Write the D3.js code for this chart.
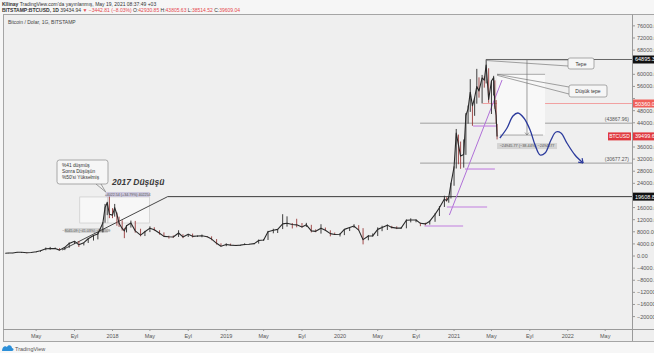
<!DOCTYPE html>
<html>
<head>
<meta charset="utf-8">
<script src="https://cdnjs.cloudflare.com/ajax/libs/d3/7.8.5/d3.min.js"></script>
<style>
  body { margin: 0; background: #f6f6f6; }
  svg { display: block; }
  text { font-family: "Liberation Sans", Arial, sans-serif; }
</style>
</head>
<body>
<svg id="chart" width="654" height="353"></svg>
<script>
// BTCUSD price, roughly half-monthly (weekly near the tops): close / high / low
var dates = [
  "2017-01-22","2017-02-01","2017-02-15","2017-03-01","2017-03-15","2017-04-01","2017-04-15","2017-05-01","2017-05-15",
  "2017-06-01","2017-06-15","2017-07-01","2017-07-15","2017-08-01","2017-08-15","2017-09-01","2017-09-15","2017-10-01",
  "2017-10-15","2017-11-01","2017-11-15","2017-12-01","2017-12-08","2017-12-15","2017-12-22",
  "2018-01-01","2018-01-08","2018-01-15","2018-01-22","2018-02-01","2018-02-08","2018-02-15","2018-03-01","2018-03-15",
  "2018-04-01","2018-04-15","2018-05-01","2018-05-15","2018-06-01","2018-06-15","2018-07-01","2018-07-15","2018-08-01",
  "2018-08-15","2018-09-01","2018-09-15","2018-10-01","2018-10-15","2018-11-01","2018-11-15","2018-12-01","2018-12-15",
  "2019-01-01","2019-01-15","2019-02-01","2019-02-15","2019-03-01","2019-03-15","2019-04-01","2019-04-15","2019-05-01",
  "2019-05-15","2019-06-01","2019-06-15","2019-07-01","2019-07-15","2019-08-01","2019-08-15","2019-09-01","2019-09-15",
  "2019-10-01","2019-10-15","2019-11-01","2019-11-15","2019-12-01","2019-12-15",
  "2020-01-01","2020-01-15","2020-02-01","2020-02-15","2020-03-01","2020-03-15","2020-04-01","2020-04-15","2020-05-01",
  "2020-05-15","2020-06-01","2020-06-15","2020-07-01","2020-07-15","2020-08-01","2020-08-15","2020-09-01","2020-09-15",
  "2020-10-01","2020-10-15","2020-11-01","2020-11-15","2020-12-01","2020-12-08","2020-12-15","2020-12-22",
  "2021-01-01","2021-01-08","2021-01-15","2021-01-22","2021-02-01","2021-02-08","2021-02-15","2021-02-22","2021-03-01",
  "2021-03-08","2021-03-15","2021-03-22","2021-04-01","2021-04-08","2021-04-14","2021-04-22","2021-05-01","2021-05-08",
  "2021-05-12","2021-05-16","2021-05-19"
];
var closes = [
  920,990,1010,1220,1250,1080,1180,1420,1750,2400,2450,2480,1950,2870,4170,4900,3700,4400,5700,6750,7300,10900,16000,17600,13800,
  13500,16000,13800,10800,9100,8300,10000,10900,8300,6900,8000,9200,8700,7500,6500,6350,6300,7600,6300,7200,6500,6600,6700,6350,5600,4200,3250,
  3800,3600,3450,3600,3800,3900,4100,5100,5300,8000,8500,8800,10600,10800,10400,10300,9600,10300,8300,8150,9200,8500,7400,7100,
  7200,8800,9400,9900,8550,5400,6600,6650,8800,9400,10200,9450,9200,9200,11800,11900,11900,10800,10600,11500,13750,15950,18800,18300,19400,23800,
  29400,40600,36800,33000,33500,46400,48600,54100,49600,52300,56000,54500,58800,58100,63100,51700,57800,58900,49400,46400,39500
];
var highs = [
  940,1000,1015,1230,1290,1110,1200,1450,1850,2800,3000,2800,2600,2950,4480,4950,4950,4450,5850,6800,7900,11200,17200,17900,19600,
  15800,17200,14400,13000,11800,9300,10200,11700,11600,9000,8300,9800,9500,8500,7800,6700,6800,8500,7200,7300,7400,6800,7100,6550,6500,5600,4200,
  4200,4100,3700,3650,4200,4000,4200,5450,5600,8300,9000,8950,13800,13100,10900,12300,10900,10950,10300,8800,10500,9400,8500,7750,
  7550,8900,9550,10500,10200,9200,6950,7450,9450,10000,10400,9950,9800,9400,12100,12450,12100,11000,11000,11700,14100,16500,19900,19400,19600,24200,
  29600,41950,40100,37800,38500,47200,49700,58400,50000,52400,61800,59000,59800,59300,64895,62000,57900,59500,58000,51500,43600
];
var lows = [
  880,900,960,1050,1000,900,1050,1200,1400,1900,2100,2300,1850,1950,2700,3950,2980,3500,4300,5100,5500,7800,11000,13500,12500,
  12500,13000,10000,9600,8400,5900,7800,9400,7700,6500,6600,7900,8400,7050,6400,5750,6050,6300,5900,6300,6100,6300,6200,6200,5200,3800,3200,
  3250,3500,3400,3400,3600,3750,3900,4100,5000,5300,7500,7600,8900,9700,9100,9500,9400,9600,7800,7850,7400,8400,6500,7050,
  6450,6900,8250,9300,8450,3850,5200,6450,6600,8200,8600,9100,8900,9000,9150,11100,11150,9850,10150,10400,11300,13200,16200,18000,17600,19000,
  23200,28900,30300,28800,29200,33400,43700,47600,43000,46300,50300,52300,50400,55600,57000,50600,46900,53000,48600,43800,38500
];

var priceTicks = d3.range(-20000, 76001, 4000);
var timeTicks = ["2017-05-01","2017-09-01","2018-01-01","2018-05-01","2018-09-01","2019-01-01","2019-05-01","2019-09-01",
  "2020-01-01","2020-05-01","2020-09-01","2021-01-01","2021-05-01","2021-09-01","2022-01-01","2022-05-01"];
var timeTickLabels = ["May","Eyl","2018","May","Eyl","2019","May","Eyl","2020","May","Eyl","2021","May","Eyl","2022","May"];

// drawn levels: start date + price
var athDate = "2021-04-14", athPrice = 64895.32;
var lowerHighDate = "2021-05-19", lowerHighPrice = 60000;
var redLevelDate = "2021-04-03", redLevelPrice = 50360.00;
var greyLevelDate = "2020-09-14", greyLevels = [43867.96, 30677.27];
var oldTopDate = "2018-06-27", oldTopPrice = 19608.86;
var lastPrice = 39499.64;

// purple supports [from, to, price]
var supportFrom = ["2021-03-03","2021-02-05","2020-12-09","2020-09-28"];
var supportTo = ["2021-05-19","2021-05-12","2021-04-17","2021-01-30"];
var supportPrices = [42930, 28730, 16180, 9910];
var trendDates = ["2020-12-17","2021-06-04"];
var trendPrices = [13540, 58120];

// 2017 trend line
var trend17Dates = ["2017-07-23","2018-06-27"];
var trend17Prices = [1980, 19608.86];

// 2017 and 2021 range measurements
var range17Dates = ["2017-09-18","2018-04-30"], range17Prices = [19500, 10900];
var range21Dates = ["2021-05-19","2021-10-20"], range21Prices = [64895.32, 39949.55];
var measure21Date = "2021-08-23";

// hand drawn projection
var forecastDates = ["2021-05-28","2021-06-20","2021-07-09","2021-07-25","2021-08-13","2021-09-02","2021-09-18","2021-10-04",
  "2021-10-20","2021-11-08","2021-11-24","2021-12-10","2021-12-29","2022-01-24","2022-02-19"];
var forecastPrices = [38970,42270,46235,47225,45575,41610,36655,33355,34015,38310,40950,40620,37320,33355,30715];

var svg = d3.select("#chart");
var parse = d3.timeParse("%Y-%m-%d");

var plotLeft = 3, axisX = 632, plotTop = 15, plotBottom = 329;
var x = d3.scaleTime().domain([parse("2017-01-21"), parse("2022-07-26")]).range([5, axisX]);
var y = d3.scaleLinear().domain([-24100, 79590]).range([plotBottom, plotTop]);

var red = "#e5484d";

// header
var h1 = svg.append("text").attr("x", 2).attr("y", 6).attr("font-size", 5).attr("fill", "#333");
h1.append("tspan").attr("font-weight", "bold").text("Kllinay");
h1.append("tspan").text(" TradingView.com'da yayınlanmış, May 19, 2021 08:37:49 +03");
var h2 = svg.append("text").attr("x", 2).attr("y", 12).attr("font-size", 5).attr("fill", "#333");
h2.append("tspan").attr("font-weight", "bold").text("BITSTAMP:BTCUSD, 1D ");
h2.append("tspan").text("39434.94 ");
h2.append("tspan").attr("fill", red).text("▼ −3442.81 (−8.03%)");
[["O:", "42930.85"], ["H:", "43805.63"], ["L:", "38514.52"], ["C:", "39609.04"]].forEach(function (p) {
  h2.append("tspan").text(" " + p[0]);
  h2.append("tspan").attr("fill", red).text(p[1]);
});

// panel
svg.append("rect").attr("x", plotLeft + 0.5).attr("y", 14.5).attr("width", 700).attr("height", 327)
  .attr("fill", "#efefef").attr("stroke", "#a5a5a5");
svg.append("text").attr("x", 8).attr("y", 24).attr("font-size", 5).attr("fill", "#444")
  .text("Bitcoin / Dolar, 1G, BITSTAMP");

svg.append("clipPath").attr("id", "plot").append("rect")
  .attr("x", plotLeft + 1).attr("y", plotTop).attr("width", axisX - plotLeft - 1).attr("height", plotBottom - plotTop);
var g = svg.append("g").attr("clip-path", "url(#plot)");

function px(d) { return x(parse(d)); }

// grey levels
greyLevels.forEach(function (v) {
  g.append("line").attr("x1", px(greyLevelDate)).attr("x2", axisX).attr("y1", y(v)).attr("y2", y(v))
    .attr("stroke", "#8a8a8a").attr("stroke-width", 0.8);
  g.append("text").attr("x", axisX - 3).attr("y", y(v) - 1.8).attr("text-anchor", "end")
    .attr("font-size", 5).attr("fill", "#555").text("(" + v.toFixed(2) + ")");
});
g.append("line").attr("x1", px(oldTopDate)).attr("x2", axisX).attr("y1", y(oldTopPrice)).attr("y2", y(oldTopPrice))
  .attr("stroke", "#3c3c3c").attr("stroke-width", 1);
g.append("line").attr("x1", px(redLevelDate)).attr("x2", axisX).attr("y1", y(redLevelPrice)).attr("y2", y(redLevelPrice))
  .attr("stroke", "#f08a8a").attr("stroke-width", 0.8);
g.append("line").attr("x1", px(athDate)).attr("x2", axisX).attr("y1", y(athPrice)).attr("y2", y(athPrice))
  .attr("stroke", "#666").attr("stroke-width", 1);

// 2021 range measurement
var r21x0 = px(range21Dates[0]), r21x1 = px(range21Dates[1]);
g.append("rect").attr("x", r21x0).attr("y", y(lowerHighPrice)).attr("width", r21x1 - r21x0)
  .attr("height", y(range21Prices[1]) - y(lowerHighPrice)).attr("fill", "#f8f8f8");
g.append("line").attr("x1", r21x0).attr("x2", r21x1).attr("y1", y(lowerHighPrice)).attr("y2", y(lowerHighPrice))
  .attr("stroke", "#888").attr("stroke-width", 0.7);
g.append("line").attr("x1", r21x0 + 3).attr("x2", r21x1 - 2).attr("y1", y(range21Prices[1])).attr("y2", y(range21Prices[1]))
  .attr("stroke", "#888").attr("stroke-width", 0.7);
var mx = px(measure21Date);
g.append("line").attr("x1", mx).attr("x2", mx).attr("y1", y(range21Prices[0])).attr("y2", y(range21Prices[1]))
  .attr("stroke", "#777").attr("stroke-width", 0.7);
g.append("path").attr("d", "M" + (mx - 2) + "," + (y(range21Prices[1]) - 2.5) + "L" + mx + "," + y(range21Prices[1]) +
  "L" + (mx + 2) + "," + (y(range21Prices[1]) - 2.5)).attr("fill", "none").attr("stroke", "#777").attr("stroke-width", 0.7);
g.append("rect").attr("x", r21x0).attr("y", y(range21Prices[1]) + 8).attr("width", 60).attr("height", 6)
  .attr("fill", "#d4d4d4");
g.append("text").attr("x", r21x0 + 30).attr("y", y(range21Prices[1]) + 12.3).attr("text-anchor", "middle")
  .attr("font-size", 3.8).attr("fill", "#555").text("−24945.77 (−38.44%) −2494577");

// 2017 range measurement
var r17x0 = px(range17Dates[0]), r17x1 = px(range17Dates[1]);
g.append("rect").attr("x", r17x0).attr("y", y(range17Prices[0])).attr("width", r17x1 - r17x0)
  .attr("height", y(range17Prices[1]) - y(range17Prices[0])).attr("fill", "#f7f7f7")
  .attr("stroke", "#c4c4c4").attr("stroke-width", 0.6);
g.append("line").attr("x1", px("2017-12-17")).attr("x2", px("2017-12-17"))
  .attr("y1", y(range17Prices[0])).attr("y2", y(range17Prices[1])).attr("stroke", "#aaa").attr("stroke-width", 0.6);
g.append("rect").attr("x", px("2017-12-10")).attr("y", y(range17Prices[0]) - 5).attr("width", 44).attr("height", 5)
  .attr("fill", "#cdc8de");
g.append("text").attr("x", px("2017-12-10") + 22).attr("y", y(range17Prices[0]) - 1.3).attr("text-anchor", "middle")
  .attr("font-size", 3.6).attr("fill", "#555").text("+4022.54 (+34.79%) 402254");
g.append("rect").attr("x", r17x0 - 15).attr("y", y(range17Prices[1]) + 5).attr("width", 43).attr("height", 5)
  .attr("fill", "#d2d2d2");
g.append("text").attr("x", r17x0 + 6.5).attr("y", y(range17Prices[1]) + 8.7).attr("text-anchor", "middle")
  .attr("font-size", 3.6).attr("fill", "#555").text("−8045.09 (−41.03%) −804509");

// trend lines
g.append("line").attr("x1", px(trend17Dates[0])).attr("y1", y(trend17Prices[0]))
  .attr("x2", px(trend17Dates[1])).attr("y2", y(trend17Prices[1])).attr("stroke", "#333").attr("stroke-width", 0.9);
g.append("line").attr("x1", px(trendDates[0])).attr("y1", y(trendPrices[0]))
  .attr("x2", px(trendDates[1])).attr("y2", y(trendPrices[1])).attr("stroke", "#b070d8").attr("stroke-width", 1);
supportPrices.forEach(function (v, i) {
  g.append("line").attr("x1", px(supportFrom[i])).attr("x2", px(supportTo[i])).attr("y1", y(v)).attr("y2", y(v))
    .attr("stroke", "#c27fe0").attr("stroke-width", 1.1);
});

// price series
var bars = dates.map(function (d, i) {
  return { date: parse(d), close: closes[i], high: highs[i], low: lows[i], prev: i ? closes[i - 1] : closes[i] };
});
g.selectAll(".wick").data(bars).enter().append("line").attr("class", "wick")
  .attr("x1", function (d) { return x(d.date); }).attr("x2", function (d) { return x(d.date); })
  .attr("y1", function (d) { return y(d.high); }).attr("y2", function (d) { return y(d.low); })
  .attr("stroke", function (d) { return d.close < d.prev ? "#9a3b3b" : "#2a2a2a"; })
  .attr("stroke-width", 0.9);
g.append("path").datum(bars).attr("fill", "none").attr("stroke", "#2a2a2a").attr("stroke-width", 1.1)
  .attr("stroke-linejoin", "round")
  .attr("d", d3.line().x(function (d) { return x(d.date); }).y(function (d) { return y(d.close); }));

// projection curve
var fc = forecastDates.map(function (d, i) { return [x(parse(d)), y(forecastPrices[i])]; });
g.append("path").datum(fc).attr("fill", "none").attr("stroke", "#2b3a9c").attr("stroke-width", 1.3)
  .attr("d", d3.line().curve(d3.curveCatmullRom));
var pEnd = fc[fc.length - 1], pPrev = fc[fc.length - 2];
var ang = Math.atan2(pEnd[1] - pPrev[1], pEnd[0] - pPrev[0]);
[-0.6, 0.6].forEach(function (a) {
  g.append("line").attr("x1", pEnd[0]).attr("y1", pEnd[1])
    .attr("x2", pEnd[0] - 5 * Math.cos(ang + a)).attr("y2", pEnd[1] - 5 * Math.sin(ang + a))
    .attr("stroke", "#2b3a9c").attr("stroke-width", 1.2);
});

// callouts
function callout(ax, ay, bx, by, bw, bh, lines) {
  g.append("line").attr("x1", ax).attr("y1", ay).attr("x2", bx).attr("y2", by + 2).attr("stroke", "#666").attr("stroke-width", 0.6);
  g.append("line").attr("x1", ax).attr("y1", ay + 1).attr("x2", bx).attr("y2", by + bh - 3).attr("stroke", "#666").attr("stroke-width", 0.6);
  g.append("rect").attr("x", bx).attr("y", by).attr("width", bw).attr("height", bh).attr("rx", 2)
    .attr("fill", "#f6f6f6").attr("stroke", "#777").attr("stroke-width", 0.6);
  lines.forEach(function (t, i) {
    g.append("text").attr("x", bx + bw / 2).attr("y", by + 5.5 + i * 6 + (lines.length === 1 ? bh / 2 - 3.5 : 0))
      .attr("text-anchor", "middle").attr("font-size", 5).attr("fill", "#333").text(t);
  });
}
callout(px(athDate), y(athPrice), 568, 58, 26, 11, ["Tepe"]);
callout(px(lowerHighDate), y(lowerHighPrice), 569, 85, 38, 12, ["Düşük tepe"]);

// 2017 callout (pointer from box bottom)
var c17x = px("2017-12-10"), c17y = y(range17Prices[0]) - 5;
g.append("line").attr("x1", 96).attr("y1", 184).attr("x2", c17x).attr("y2", c17y).attr("stroke", "#666").attr("stroke-width", 0.6);
g.append("line").attr("x1", 101).attr("y1", 184).attr("x2", c17x).attr("y2", c17y).attr("stroke", "#666").attr("stroke-width", 0.6);
g.append("rect").attr("x", 57).attr("y", 160).attr("width", 51).attr("height", 24).attr("rx", 2.5)
  .attr("fill", "#f6f6f6").attr("stroke", "#777").attr("stroke-width", 0.6);
["%41 düşmüş", "Sonra Düşüşün", "%50'si Yükselmiş"].forEach(function (t, i) {
  g.append("text").attr("x", 62).attr("y", 167 + i * 6).attr("font-size", 4.8).attr("fill", "#333").text(t);
});
g.append("text").attr("x", 112).attr("y", 185).attr("font-size", 8.5).attr("font-weight", "bold")
  .attr("font-style", "italic").attr("fill", "#3a3a3a").text("2017 Düşüşü");

// right price axis
svg.append("line").attr("x1", axisX + 0.5).attr("x2", axisX + 0.5).attr("y1", 14.5).attr("y2", 341)
  .attr("stroke", "#9a9a9a");
var tags = [athPrice, redLevelPrice, lastPrice, oldTopPrice];
priceTicks.forEach(function (v) {
  var hide = tags.some(function (t) { return Math.abs(y(t) - y(v)) < 7; });
  svg.append("line").attr("x1", axisX).attr("x2", axisX + 3).attr("y1", y(v)).attr("y2", y(v)).attr("stroke", "#999");
  if (!hide) {
    svg.append("text").attr("x", axisX + 5).attr("y", y(v) + 2).attr("font-size", 5.5).attr("fill", "#555")
      .text(d3.format(".2f")(v));
  }
});
function tag(v, bg) {
  svg.append("rect").attr("x", axisX + 1).attr("y", y(v) - 4).attr("width", 24).attr("height", 8).attr("fill", bg);
  svg.append("text").attr("x", axisX + 3).attr("y", y(v) + 2).attr("font-size", 5.5).attr("fill", "#fff")
    .text(v.toFixed(2));
}
tag(athPrice, "#111");
tag(redLevelPrice, "#f0605a");
tag(lastPrice, "#e0393e");
tag(oldTopPrice, "#111");
svg.append("rect").attr("x", axisX - 24).attr("y", y(lastPrice) - 4).attr("width", 23).attr("height", 8).attr("fill", "#e0393e");
svg.append("text").attr("x", axisX - 12.5).attr("y", y(lastPrice) + 2).attr("text-anchor", "middle")
  .attr("font-size", 5).attr("fill", "#fff").text("BTCUSD");

// time axis
svg.append("line").attr("x1", plotLeft).attr("x2", 654).attr("y1", plotBottom + 0.5).attr("y2", plotBottom + 0.5).attr("stroke", "#9a9a9a");
timeTicks.forEach(function (d, i) {
  var tx = px(d);
  svg.append("line").attr("x1", tx).attr("x2", tx).attr("y1", plotBottom).attr("y2", plotBottom + 2).attr("stroke", "#999");
  svg.append("text").attr("x", tx).attr("y", plotBottom + 8.5).attr("text-anchor", "middle").attr("font-size", 5.5)
    .attr("fill", "#555").text(timeTickLabels[i]);
});

// footer logo
svg.append("path").attr("d", "M2,351 C2,347 5,345 7,347 C8,344 12,345 12,348 C14,348 14,351 12,351 Z").attr("fill", "#2c8fd8");
svg.append("text").attr("x", 15).attr("y", 350.5).attr("font-size", 5.5).attr("fill", "#555").text("TradingView");
</script>
</body>
</html>
